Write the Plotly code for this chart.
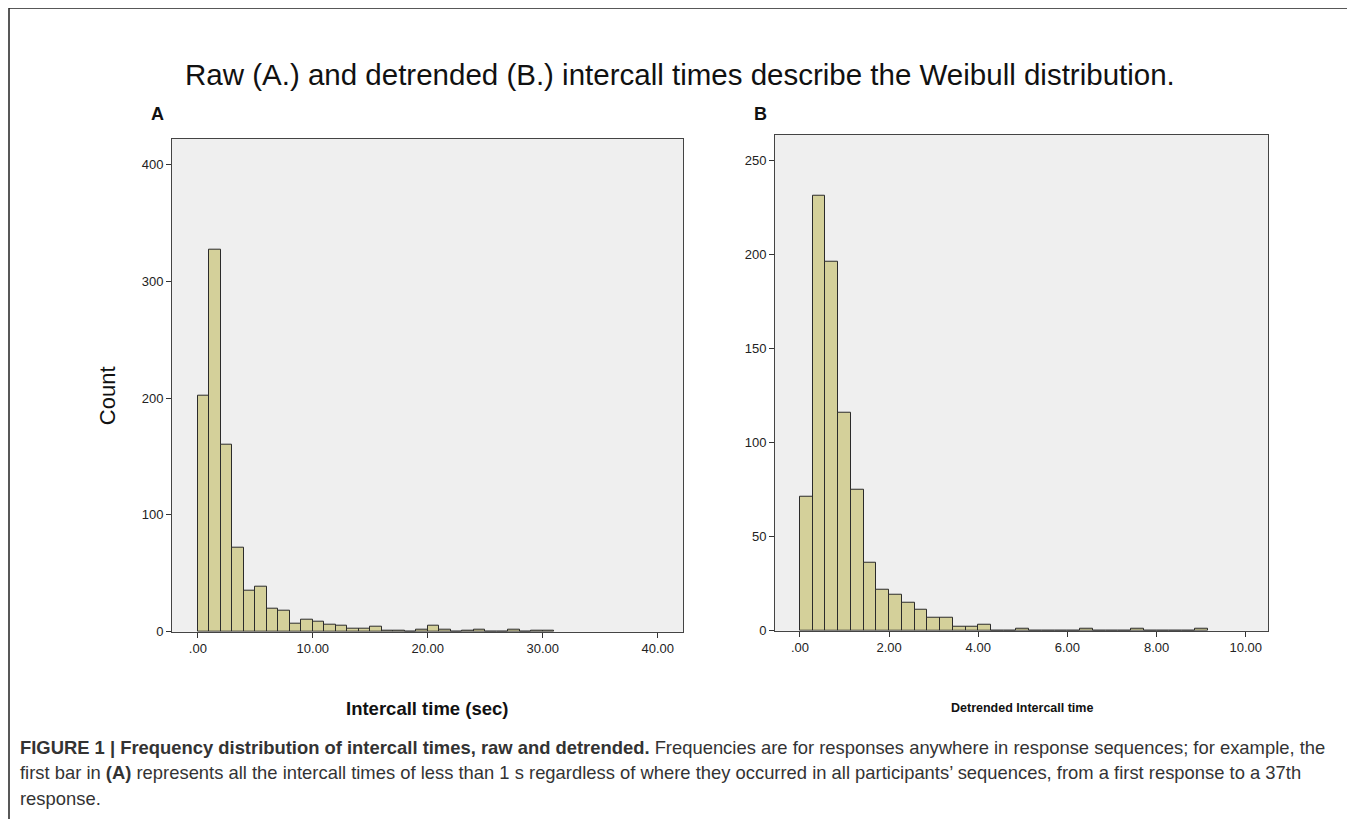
import plotly.graph_objects as go

# a página tem margem de 8px no body, então a figura é deslocada
OFF = 8
W, H = 1355 - OFF, 819 - OFF

# Painel A: contagens por intervalo de 1 s
a_bin_width = 1.0
a_counts = [202, 327, 160, 72, 35, 39, 20, 18, 7, 10, 9, 6, 5, 3, 3, 4, 1, 1, 0,
            2, 5, 2, 0, 1, 2, 0, 0, 2, 0, 1, 1]
a_tickvals = [0, 10, 20, 30, 40]
a_ticktext = [".00", "10.00", "20.00", "30.00", "40.00"]
a_ytickvals = [0, 100, 200, 300, 400]

# Painel B: tempos sem tendência
b_bin_width = 2 / 7
b_counts = [71, 231, 196, 116, 75, 36, 22, 19, 15, 11, 7, 7, 2, 2, 3, 0, 0, 1,
            0, 0, 0, 0, 1, 0, 0, 0, 1, 0, 0, 0, 0, 1]
b_tickvals = [0, 2, 4, 6, 8, 10]
b_ticktext = [".00", "2.00", "4.00", "6.00", "8.00", "10.00"]
b_ytickvals = [0, 50, 100, 150, 200, 250]

caption_lines = [
    "<b>FIGURE 1 | Frequency distribution of intercall times, raw and detrended.</b> "
    "Frequencies are for responses anywhere in response sequences; for example, the",
    "first bar in <b>(A)</b> represents all the intercall times of less than 1 s regardless "
    "of where they occurred in all participants\u2019 sequences, from a first response to a 37th",
    "response.",
]

FONT = "Liberation Sans, Arial, sans-serif"
bar_fill = "#d4d09a"
bar_edge = "#2b2b2b"


def px(x):
    return (x - OFF) / W


def py(y):
    return 1 - (y - OFF) / H


fig = go.Figure()

fig.add_trace(go.Bar(
    x0=a_bin_width / 2, dx=a_bin_width, y=a_counts, width=a_bin_width,
    marker=dict(color=bar_fill, line=dict(color=bar_edge, width=1)),
    xaxis="x", yaxis="y", showlegend=False, hoverinfo="skip"
))
fig.add_trace(go.Bar(
    x0=b_bin_width / 2, dx=b_bin_width, y=b_counts, width=b_bin_width,
    marker=dict(color=bar_fill, line=dict(color=bar_edge, width=1)),
    xaxis="x2", yaxis="y2", showlegend=False, hoverinfo="skip"
))

axis_common = dict(
    showline=True, linecolor="#444", linewidth=1, mirror=True,
    showgrid=False, zeroline=False,
    ticks="outside", ticklen=5, tickcolor="#333",
    tickfont=dict(family=FONT, size=13, color="#222"),
)

fig.update_layout(
    width=W, height=H,
    margin=dict(l=0, r=0, t=0, b=0),
    paper_bgcolor="white", plot_bgcolor="#efefef",
    bargap=0,
    xaxis=dict(domain=[px(172), px(683)], range=[-2.25, 42.2],
               tickvals=a_tickvals, ticktext=a_ticktext, anchor="y", **axis_common),
    yaxis=dict(domain=[py(638), py(140)], range=[0, 421.9],
               tickvals=a_ytickvals, anchor="x", **axis_common),
    xaxis2=dict(domain=[px(775), px(1268)], range=[-0.56, 10.5],
                tickvals=b_tickvals, ticktext=b_ticktext, anchor="y2", **axis_common),
    yaxis2=dict(domain=[py(637), py(136)], range=[0, 263.5],
                tickvals=b_ytickvals, anchor="x2", **axis_common),
)


def label(text, x, y, size, color="#111", xanchor="center", angle=0):
    return dict(text=text, x=px(x), y=py(y), xref="paper", yref="paper",
                xanchor=xanchor, yanchor="middle", showarrow=False, textangle=angle,
                font=dict(family=FONT, size=size, color=color))


ann = [
    label("Raw (A.) and detrended (B.) intercall times describe the Weibull distribution.",
          680, 75, 29.5),
    label("<b>A</b>", 157, 115, 18),
    label("<b>B</b>", 760, 115, 18),
    label("Count", 107, 400, 22, angle=-90),
    label("<b>Intercall time (sec)</b>", 427, 715, 18.5),
    label("<b>Detrended Intercall time</b>", 1022, 715, 12.5),
]
for i, line in enumerate(caption_lines):
    ann.append(label(line, 18, 755 + 25.5 * i, 18.4, color="#333", xanchor="left"))
fig.update_layout(annotations=ann)

# moldura externa
fig.add_shape(type="rect", xref="paper", yref="paper",
              x0=px(9), x1=px(1352), y0=-0.02, y1=py(8),
              line=dict(color="#222", width=1.5))

fig.write_html("out.html")
